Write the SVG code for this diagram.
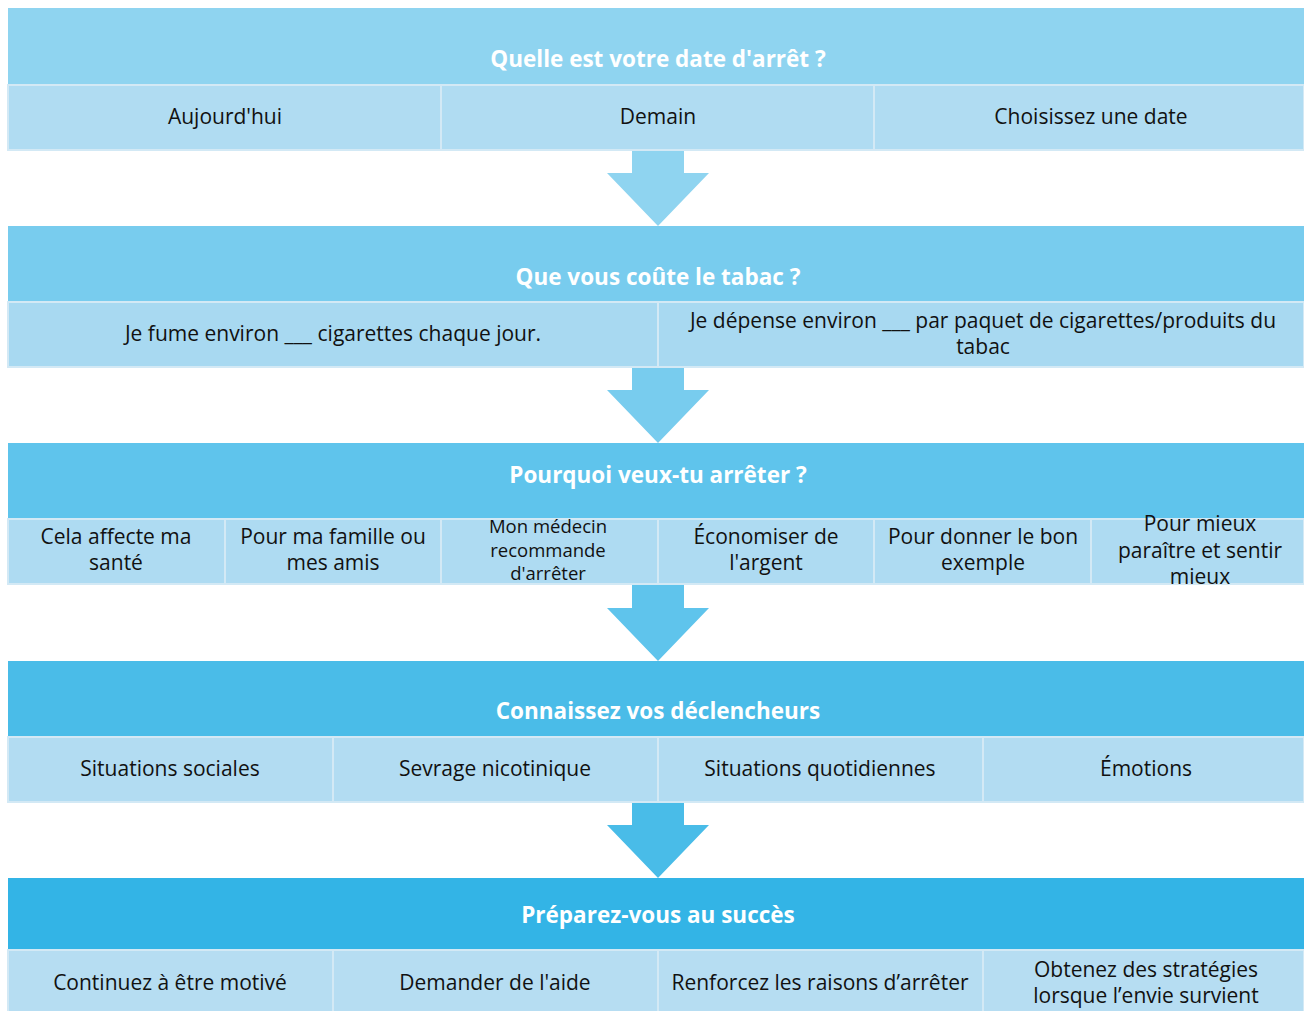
<svg xmlns="http://www.w3.org/2000/svg" width="1304" height="1011" viewBox="0 0 1304 1011">
<style>
text{font-family:"Open Sans","Noto Sans","Liberation Sans",sans-serif;text-anchor:middle}
.t{font-size:22.5px;font-weight:bold;fill:#ffffff}
.c{font-size:21px;fill:#111111}
.s{font-size:18.5px;fill:#111111}
.cell{stroke:#d3e9f5;stroke-width:2}
</style>
<rect width="1304" height="1011" fill="#ffffff"/>
<g id="connectors">
<polygon points="632,150 684,150 684,173 709,173 658,226 607,173 632,173" fill="#8fd4f0"/>
<polygon points="632,367 684,367 684,390 709,390 658,443 607,390 632,390" fill="#78ccee"/>
<polygon points="632,584 684,584 684,608 709,608 658,661 607,608 632,608" fill="#5fc4ec"/>
<polygon points="632,802 684,802 684,825 709,825 658,878 607,825 632,825" fill="#49bce8"/>
</g>
<g id="step1">
<rect x="8" y="8" width="1296" height="76" fill="#8fd4f0"/>
<text class="t" x="658" y="67">Quelle est votre date d'arrêt ?</text>
<g id="step1-cells" fill="#b0dcf2">
<rect class="cell" x="8" y="85" width="433" height="65"/>
<rect class="cell" x="441" y="85" width="433" height="65"/>
<rect class="cell" x="874" y="85" width="430" height="65"/>
</g>
<text class="c" x="225" y="124">Aujourd'hui</text>
<text class="c" x="658" y="124">Demain</text>
<text class="c" x="1091" y="124">Choisissez une date</text>
</g>
<g id="step2">
<rect x="8" y="226" width="1296" height="75" fill="#78ccee"/>
<text class="t" x="658" y="285">Que vous coûte le tabac ?</text>
<g fill="#a8d9f1">
<rect class="cell" x="8" y="302" width="650" height="65"/>
<rect class="cell" x="658" y="302" width="646" height="65"/>
</g>
<text class="c" x="333" y="341">Je fume environ ___ cigarettes chaque jour.</text>
<text class="c" x="983" y="328">Je dépense environ ___ par paquet de cigarettes/produits du</text>
<text class="c" x="983" y="354">tabac</text>
</g>
<g id="step3">
<rect x="8" y="443" width="1296" height="75" fill="#5fc4ec"/>
<text class="t" x="658" y="483">Pourquoi veux-tu arrêter ?</text>
<g fill="#aedbf2">
<rect class="cell" x="8" y="519" width="217" height="65"/>
<rect class="cell" x="225" y="519" width="216" height="65"/>
<rect class="cell" x="441" y="519" width="217" height="65"/>
<rect class="cell" x="658" y="519" width="216" height="65"/>
<rect class="cell" x="874" y="519" width="217" height="65"/>
<rect class="cell" x="1091" y="519" width="213" height="65"/>
</g>
<text class="c" x="116" y="544">Cela affecte ma</text>
<text class="c" x="116" y="570">santé</text>
<text class="c" x="333" y="544">Pour ma famille ou</text>
<text class="c" x="333" y="570">mes amis</text>
<text class="s" x="548" y="533">Mon médecin</text>
<text class="s" x="548" y="557">recommande</text>
<text class="s" x="548" y="580">d'arrêter</text>
<text class="c" x="766" y="544">Économiser de</text>
<text class="c" x="766" y="570">l'argent</text>
<text class="c" x="983" y="544">Pour donner le bon</text>
<text class="c" x="983" y="570">exemple</text>
<text class="c" x="1200" y="531">Pour mieux</text>
<text class="c" x="1200" y="558">paraître et sentir</text>
<text class="c" x="1200" y="584">mieux</text>
</g>
<g id="step4">
<rect x="8" y="661" width="1296" height="75" fill="#4abce8"/>
<text class="t" x="658" y="719">Connaissez vos déclencheurs</text>
<g fill="#b2dcf2">
<rect class="cell" x="8" y="737" width="325" height="65"/>
<rect class="cell" x="333" y="737" width="325" height="65"/>
<rect class="cell" x="658" y="737" width="325" height="65"/>
<rect class="cell" x="983" y="737" width="321" height="65"/>
</g>
<text class="c" x="170" y="776">Situations sociales</text>
<text class="c" x="495" y="776">Sevrage nicotinique</text>
<text class="c" x="820" y="776">Situations quotidiennes</text>
<text class="c" x="1146" y="776">Émotions</text>
</g>
<g id="step5">
<rect x="8" y="878" width="1296" height="72" fill="#33b4e6"/>
<text class="t" x="658" y="923">Préparez-vous au succès</text>
<g fill="#b6ddf2">
<rect class="cell" x="8" y="950" width="325" height="63"/>
<rect class="cell" x="333" y="950" width="325" height="63"/>
<rect class="cell" x="658" y="950" width="325" height="63"/>
<rect class="cell" x="983" y="950" width="321" height="63"/>
</g>
<text class="c" x="170" y="990">Continuez à être motivé</text>
<text class="c" x="495" y="990">Demander de l'aide</text>
<text class="c" x="820" y="990">Renforcez les raisons d’arrêter</text>
<text class="c" x="1146" y="977">Obtenez des stratégies</text>
<text class="c" x="1146" y="1003">lorsque l’envie survient</text>
</g>
</svg>
